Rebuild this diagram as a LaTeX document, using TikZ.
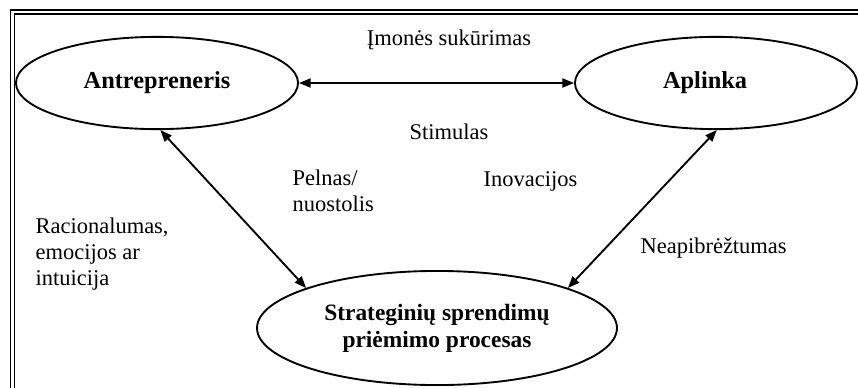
\documentclass[tikz,border=0pt]{standalone}
\usepackage{fontspec}
\setmainfont{Liberation Serif}
\usetikzlibrary{positioning, arrows.meta, shapes.geometric}

\tikzset{
  blob/.style={draw, ellipse, inner sep=0pt, line width=1pt, font=\fontsize{13}{15}\selectfont\bfseries},
  lbl/.style={inner sep=0pt, font=\fontsize{12}{13.8}\selectfont}
}

\begin{document}
\begin{tikzpicture}[x=0.01875cm, y=-0.01875cm, >={Triangle[length=0.22cm, width=0.17cm]}, semithick]
      \clip (0,0) rectangle (858,387);
      % double frame
      \draw[line width=0.8pt] (10.5,10) rectangle (900,420);
      \draw[line width=0.8pt] (14.5,14) rectangle (896,416);

      \node[blob, minimum width=5.29cm, minimum height=1.73cm] (ant) at (157,83) {Antrepreneris};
      \node[blob, minimum width=5.29cm, minimum height=1.73cm] (apl) at (716,83) {Aplinka\hspace*{0.41cm}};
      \node[blob, minimum width=6.75cm, minimum height=2.14cm, align=center,
        font=\fontsize{12.5}{14.4}\selectfont\bfseries] (proc) at (437,328) {Strateginių sprendimų\\priėmimo procesas};

      \node[lbl, anchor=base] (kur) at (449,45) {Įmonės sukūrimas};
      \node[lbl, anchor=base] (stim) at (449,139) {Stimulas};
      \node[lbl, anchor=base west, align=left] (peln) at (292,211) {Pelnas/\\nuostolis};
      \node[lbl, anchor=base west] (inov) at (483,186) {Inovacijos};
      \node[lbl, anchor=base west, align=left] (rac) at (35,285) {Racionalumas,\\emocijos ar\\intuicija};
      \node[lbl, anchor=base west] (neap) at (640,253) {Neapibrėžtumas};

      \draw[<->, line width=1pt] (ant.east) -- (apl.west);
      \draw[<->, line width=1pt] (ant.-86) -- (proc.163);
      \draw[<->, line width=1pt] (apl.-89) -- (proc.17);
    \end{tikzpicture}
\end{document}
